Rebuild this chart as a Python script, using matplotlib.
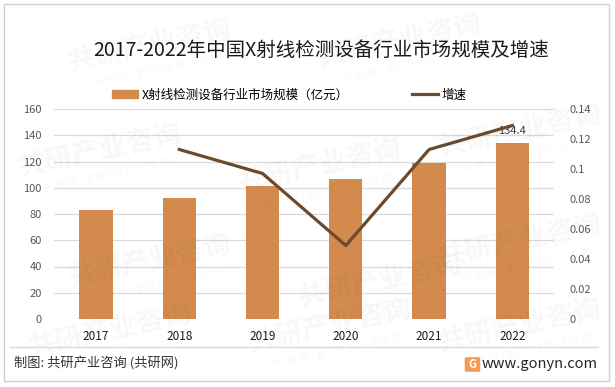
import numpy as np
import matplotlib
matplotlib.use("Agg")
import matplotlib.pyplot as plt
from matplotlib.patches import Rectangle, FancyBboxPatch
from matplotlib.lines import Line2D

plt.rcParams['font.family'] = ['Noto Sans CJK SC', 'DejaVu Sans']

## data
years = ['2017', '2018', '2019', '2020', '2021', '2022']
market_size = [83.0, 92.2, 101.3, 106.3, 118.6, 134.4]   # 亿元
growth = [np.nan, 0.113, 0.097, 0.049, 0.113, 0.129]
left_ticks = [0, 20, 40, 60, 80, 100, 120, 140, 160]
right_ticks = [0, 0.02, 0.04, 0.06, 0.08, 0.1, 0.12, 0.14]

title = '2017-2022年中国X射线检测设备行业市场规模及增速'
bar_name = 'X射线检测设备行业市场规模（亿元）'
line_name = '增速'
footer = '制图: 共研产业咨询 (共研网)'
site = 'www.gonyn.com'

bar_color = '#D38B4D'
line_color = '#6B4A2E'
grid_color = '#D9D9D9'

W, H = 615, 387
fig = plt.figure(figsize=(W / 100, H / 100), dpi=100)
fig.patch.set_facecolor('white')


def fx(px):
    return px / W


def fy(py):
    return 1 - py / H


# faint watermarks
wm_pos = [(150, 45), (400, 40), (100, 150), (320, 165), (520, 130),
          (150, 260), (380, 280), (520, 240), (110, 330), (330, 325), (520, 325)]
for (x, y) in wm_pos:
    fig.text(fx(x), fy(y), '共研产业咨询', fontsize=20, fontweight='bold', color='#000000',
             alpha=0.03, rotation=12, ha='center', va='center', zorder=0)
    fig.text(fx(x + 8), fy(y + 24), 'w w w . g o n y n . c o m', fontsize=9, color='#000000',
             alpha=0.03, rotation=12, ha='center', va='center', zorder=0)

# outer border
fig.patches.append(Rectangle((fx(4), fy(381)), fx(605), (377) / H, transform=fig.transFigure,
                             fill=False, edgecolor='#D0D0D0', linewidth=1.0))

ax = fig.add_axes([fx(54.4), fy(319), fx(554 - 54.4), (319 - 109) / H])
ax.patch.set_alpha(0)
x = np.arange(len(years))
bars = ax.bar(x, market_size, width=0.4, color=bar_color, zorder=2, label=bar_name)
ax.set_xlim(-0.5, len(years) - 0.5)
ax.set_ylim(0, 160)
ax.set_yticks(left_ticks)
ax.set_yticklabels([str(t) for t in left_ticks])
ax.set_xticks(x)
ax.set_xticklabels(years)
ax.grid(axis='y', color=grid_color, linewidth=0.9, zorder=0)
ax.set_axisbelow(True)
for s in ax.spines.values():
    s.set_visible(False)
ax.tick_params(axis='y', length=0, pad=9, labelsize=8, labelcolor='#595959')
ax.tick_params(axis='x', length=0, pad=8, labelsize=8.5, labelcolor='#1A1A1A')

# data label only on last bar
ax.text(x[-1], market_size[-1] + 5, '%.1f' % market_size[-1], ha='center', va='bottom',
        fontsize=8, color='#404040', zorder=4)

ax2 = ax.twinx()
ax2.plot(x, growth, color=line_color, linewidth=2.3, zorder=3, label=line_name)
ax2.set_ylim(0, 0.14)
ax2.set_yticks(right_ticks)
ax2.set_yticklabels(['%g' % t for t in right_ticks])
for s in ax2.spines.values():
    s.set_visible(False)
ax2.tick_params(axis='y', length=0, pad=11, labelsize=8, labelcolor='#595959')

# title
fig.text(fx(321), fy(50), title, fontsize=14, color='#1A1A1A', ha='center', va='center')

# legend
handles = [Rectangle((0, 0), 1, 1, color=bar_color),
           Line2D([0], [0], color=line_color, linewidth=2.3)]
fig.legend(handles, [bar_name, line_name], loc='center left',
           bbox_to_anchor=(fx(112), fy(95)), ncol=2, frameon=False, fontsize=9,
           handlelength=2.1, handleheight=0.6, handletextpad=0.3, columnspacing=5.0,
           borderpad=0, borderaxespad=0)

# footer
fig.add_artist(Line2D([fx(10), fx(598)], [fy(347), fy(347)], color='#D9D9D9', linewidth=1.0))
fig.text(fx(14), fy(364), footer, fontsize=9.5, color='#333333', ha='left', va='center')
fig.patches.append(FancyBboxPatch((fx(466), fy(371)), fx(13), 13 / H, transform=fig.transFigure,
                                  boxstyle='round,pad=0.002', facecolor='#F39A55', edgecolor='none'))
fig.text(fx(472.5), fy(364.5), 'G', fontsize=8, fontweight='bold', color='white',
         ha='center', va='center')
fig.text(fx(598), fy(364), site, fontsize=10.5, color='#262626', ha='right', va='center')

fig.savefig('out.png', dpi=100)
